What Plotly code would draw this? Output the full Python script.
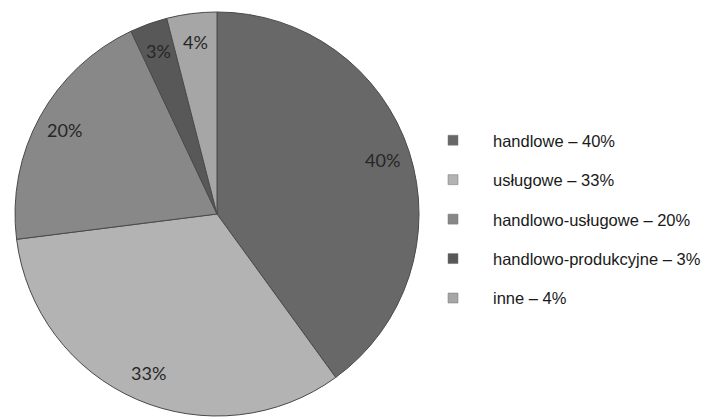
import math
import plotly.graph_objects as go

# Udział typów działalności
categories = ["handlowe", "usługowe", "handlowo-usługowe", "handlowo-produkcyjne", "inne"]
shares = [40, 33, 20, 3, 4]
colors = ["#686868", "#b3b3b3", "#888888", "#585858", "#a6a6a6"]

W, H = 711, 419
# pie domain in paper fractions
dom_x = [13 / W, 421 / W]
dom_y = [1 - 416 / H, 1 - 12 / H]

fig = go.Figure()
fig.add_trace(go.Pie(
    labels=categories,
    values=shares,
    sort=False,
    direction="clockwise",
    rotation=0,
    marker=dict(colors=colors, line=dict(color="#4a4a4a", width=1)),
    textinfo="none",
    hoverinfo="label+percent",
    showlegend=False,
    domain=dict(x=dom_x, y=dom_y),
))

# percentage labels placed along each slice's mid-angle
cx_px = (dom_x[0] + dom_x[1]) / 2 * W
cy_px = (1 - (dom_y[0] + dom_y[1]) / 2) * H
radius = min((dom_x[1] - dom_x[0]) * W, (dom_y[1] - dom_y[0]) * H) / 2
total = sum(shares)
cum = 0
for v in shares:
    mid = (cum + v / 2) / total * 2 * math.pi
    cum += v
    r = radius * 0.86
    px = cx_px + r * math.sin(mid)
    py = cy_px - r * math.cos(mid)
    fig.add_annotation(
        x=px / W, y=1 - py / H, xref="paper", yref="paper",
        text=f"{v}%", showarrow=False,
        font=dict(family="Lato", size=18, color="#262626"),
        xanchor="center", yanchor="middle",
    )

# legend entries
for name, v, c in zip(categories, shares, colors):
    fig.add_trace(go.Scatter(
        x=[None], y=[None], mode="markers", name=f"{name} – {v}%",
        legendgroup=name,
        marker=dict(symbol="square", size=10, color=c,
                    line=dict(color="#777777", width=0.5)),
    ))

fig.update_layout(
    width=W, height=H,
    margin=dict(l=0, r=0, t=0, b=0),
    paper_bgcolor="white",
    plot_bgcolor="white",
    xaxis=dict(visible=False),
    yaxis=dict(visible=False),
    legend=dict(
        x=413 / W, y=1 - 123 / H, xanchor="left", yanchor="top",
        font=dict(family="Liberation Sans, Arial", size=16.5, color="#1a1a1a"),
        itemwidth=70,
        tracegroupgap=15,
        bgcolor="rgba(0,0,0,0)",
    ),
)

fig.write_html("out.html")
